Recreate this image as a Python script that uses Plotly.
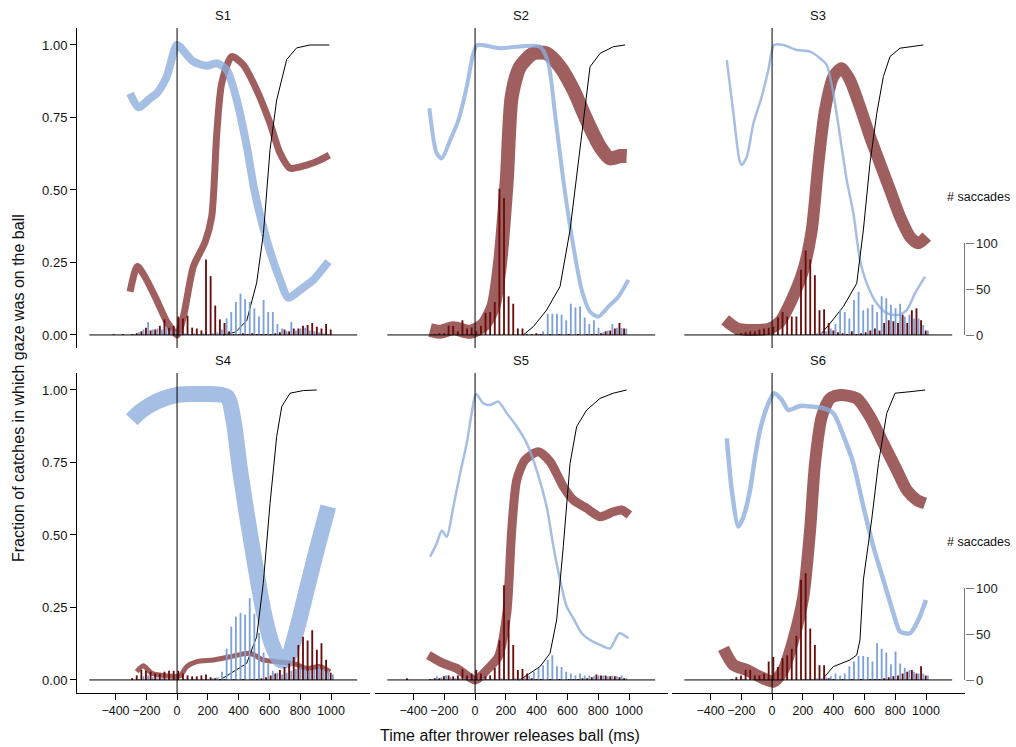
import plotly.graph_objects as go

W, H = 1016, 747

PANELS = ["S1", "S2", "S3", "S4", "S5", "S6"]
BIN_CENTERS = [-435 + 30 * k for k in range(49)]
TIME_TICKS = [-400, -200, 0, 200, 400, 600, 800, 1000]
FRAC_TICKS = [0, 0.25, 0.5, 0.75, 1.0]
SACC_TICKS = [0, 50, 100]

# ---- gaze-on-ball fraction curves (ms, fraction) ----
S1_BLUE_T = [-305, -251, -175, -132, -67, 0, 63, 106, 193, 258, 323, 388, 453, 506, 582, 669, 723, 799, 885, 983]
S1_BLUE_V = [0.833, 0.785, 0.816, 0.833, 0.891, 1.0, 0.966, 0.943, 0.928, 0.937, 0.914, 0.81, 0.65, 0.489, 0.328, 0.19, 0.128, 0.155, 0.19, 0.253]
S1_RED_T = [-305, -258, -208, -132, -67, 0, 41, 106, 182, 225, 258, 290, 355, 431, 517, 604, 669, 734, 842, 928, 989]
S1_RED_V = [0.149, 0.236, 0.2, 0.12, 0.046, 0.0, 0.063, 0.236, 0.32, 0.408, 0.695, 0.868, 0.96, 0.931, 0.845, 0.73, 0.627, 0.575, 0.586, 0.603, 0.62]
S1_BLACK_T = [300, 380, 453, 517, 561, 604, 647, 712, 777, 864, 989]
S1_BLACK_V = [0.0, 0.01, 0.05, 0.18, 0.35, 0.64, 0.81, 0.95, 0.99, 1.0, 1.0]

S2_BLUE_T = [-297, -249, -216, -162, -108, -54, -11, 15, 162, 422, 476, 519, 573, 628, 693, 747, 801, 866, 931, 996]
S2_BLUE_V = [0.782, 0.626, 0.609, 0.672, 0.741, 0.856, 0.971, 1.0, 0.989, 0.994, 0.937, 0.764, 0.534, 0.339, 0.155, 0.08, 0.063, 0.098, 0.132, 0.19]
S2_RED_T = [-292, -227, -141, -32, 54, 119, 162, 206, 238, 292, 379, 465, 552, 639, 725, 812, 877, 942, 985]
S2_RED_V = [0.017, 0.011, 0.023, 0.011, 0.034, 0.098, 0.247, 0.534, 0.822, 0.925, 0.971, 0.971, 0.925, 0.845, 0.741, 0.649, 0.609, 0.617, 0.617]
S2_BLACK_T = [314, 379, 465, 552, 617, 682, 725, 747, 812, 898, 974]
S2_BLACK_V = [0.0, 0.029, 0.086, 0.167, 0.362, 0.649, 0.822, 0.925, 0.971, 0.994, 1.0]

S3_BLUE_T = [-294, -251, -212, -197, -164, -121, -67, -24, 13, 73, 160, 247, 312, 355, 398, 442, 485, 528, 571, 615, 680, 745, 820, 875, 929, 994]
S3_BLUE_V = [0.948, 0.764, 0.603, 0.586, 0.615, 0.73, 0.822, 0.914, 1.0, 1.0, 0.983, 0.977, 0.954, 0.931, 0.833, 0.684, 0.534, 0.42, 0.259, 0.178, 0.109, 0.075, 0.069, 0.086, 0.144, 0.201]
S3_RED_T = [-305, -229, -121, -13, 52, 117, 203, 258, 301, 344, 398, 452, 506, 571, 636, 701, 766, 831, 896, 950, 1005]
S3_RED_V = [0.052, 0.023, 0.017, 0.023, 0.046, 0.109, 0.224, 0.362, 0.592, 0.776, 0.891, 0.92, 0.879, 0.787, 0.684, 0.592, 0.5, 0.408, 0.339, 0.316, 0.339]
S3_BLACK_T = [312, 377, 463, 550, 593, 636, 680, 723, 766, 831, 982]
S3_BLACK_V = [0.0, 0.04, 0.098, 0.178, 0.362, 0.592, 0.764, 0.891, 0.96, 0.989, 1.0]

S4_BLUE_T = [-294, -240, -132, 2, 149, 323, 366, 409, 452, 506, 560, 615, 669, 712, 777, 842, 907, 982]
S4_BLUE_V = [0.897, 0.925, 0.96, 0.983, 0.986, 0.977, 0.897, 0.724, 0.575, 0.402, 0.241, 0.126, 0.069, 0.069, 0.172, 0.31, 0.448, 0.598]
S4_RED_T = [-262, -219, -164, -67, 19, 63, 128, 236, 344, 474, 560, 647, 755, 842, 929, 994]
S4_RED_V = [0.029, 0.049, 0.023, 0.014, 0.014, 0.046, 0.063, 0.069, 0.08, 0.092, 0.069, 0.063, 0.057, 0.04, 0.046, 0.029]
S4_BLACK_T = [279, 366, 452, 517, 560, 604, 647, 680, 734, 820, 907]
S4_BLACK_V = [0.0, 0.029, 0.057, 0.149, 0.333, 0.609, 0.839, 0.943, 0.989, 0.998, 1.0]

S5_BLUE_T = [-292, -249, -216, -184, -141, -97, -54, -22, 6, 54, 97, 151, 206, 271, 336, 400, 465, 509, 552, 595, 638, 693, 747, 812, 877, 937, 996]
S5_BLUE_V = [0.425, 0.471, 0.515, 0.494, 0.598, 0.713, 0.816, 0.92, 0.986, 0.954, 0.948, 0.96, 0.92, 0.874, 0.816, 0.724, 0.598, 0.46, 0.345, 0.253, 0.213, 0.161, 0.138, 0.121, 0.109, 0.161, 0.144]
S5_RED_T = [-303, -206, -119, 0, 76, 151, 206, 238, 271, 325, 411, 487, 573, 638, 725, 812, 898, 952, 1002]
S5_RED_V = [0.086, 0.057, 0.04, 0.0, 0.034, 0.08, 0.23, 0.517, 0.69, 0.759, 0.787, 0.753, 0.667, 0.621, 0.592, 0.563, 0.58, 0.586, 0.569]
S5_BLACK_T = [290, 336, 422, 487, 530, 573, 617, 660, 725, 812, 898, 985]
S5_BLACK_V = [0.0, 0.017, 0.046, 0.092, 0.207, 0.46, 0.747, 0.874, 0.931, 0.971, 0.989, 1.0]

S6_BLUE_T = [-294, -262, -219, -186, -143, -110, -78, -24, 13, 63, 106, 182, 247, 333, 398, 474, 528, 593, 658, 723, 788, 831, 896, 950, 1000]
S6_BLUE_V = [0.833, 0.655, 0.529, 0.563, 0.655, 0.77, 0.862, 0.954, 0.989, 0.966, 0.931, 0.945, 0.943, 0.937, 0.92, 0.828, 0.747, 0.598, 0.46, 0.345, 0.23, 0.167, 0.161, 0.207, 0.276]
S6_RED_T = [-316, -251, -164, -78, 9, 73, 138, 203, 247, 279, 323, 377, 442, 550, 636, 723, 810, 875, 940, 994]
S6_RED_V = [0.109, 0.052, 0.034, 0.011, -0.006, 0.034, 0.138, 0.287, 0.517, 0.747, 0.908, 0.971, 0.983, 0.971, 0.908, 0.816, 0.724, 0.655, 0.621, 0.609]
S6_BLACK_T = [333, 398, 506, 550, 571, 593, 647, 691, 745, 799, 896, 994]
S6_BLACK_V = [0.006, 0.046, 0.069, 0.086, 0.138, 0.345, 0.552, 0.747, 0.92, 0.989, 0.994, 1.0]

# ---- saccade counts per 30 ms bin (BIN_CENTERS) ----
S1_RED_H = [0, 1, 0, 1, 0, 1, 2, 4, 8, 5, 6, 10, 17, 8, 10, 20, 18, 21, 8, 7, 5, 82, 64, 32, 17, 13, 4, 1, 1, 2, 1, 2, 1, 1, 1, 1, 2, 3, 6, 4, 7, 7, 10, 11, 13, 9, 7, 12, 6]
S1_BLUE_H = [0, 0, 0, 0, 0, 1, 3, 6, 14, 6, 7, 6, 8, 5, 4, 2, 2, 1, 2, 1, 2, 1, 2, 3, 6, 18, 25, 36, 45, 39, 36, 29, 20, 38, 25, 25, 12, 7, 4, 14, 5, 7, 8, 5, 4, 3, 2, 1, 0]
S2_RED_H = [0, 0, 0, 0, 0, 0, 1, 2, 2, 10, 10, 4, 16, 7, 8, 4, 10, 24, 25, 36, 159, 149, 42, 34, 7, 7, 1, 1, 2, 1, 0, 1, 0, 1, 0, 1, 0, 1, 0, 1, 1, 1, 2, 4, 5, 7, 13, 7, 0]
S2_BLUE_H = [0, 0, 0, 0, 0, 0, 0, 1, 0, 1, 0, 0, 0, 0, 0, 0, 0, 0, 0, 0, 0, 0, 0, 0, 0, 0, 0, 0, 1, 4, 23, 23, 23, 22, 16, 34, 30, 31, 19, 12, 16, 8, 3, 5, 12, 8, 8, 7, 0]
S3_RED_H = [0, 0, 0, 0, 0, 0, 0, 1, 2, 3, 4, 4, 6, 7, 8, 9, 19, 25, 20, 20, 20, 71, 92, 82, 65, 27, 28, 13, 5, 3, 2, 1, 4, 1, 2, 3, 5, 7, 5, 13, 16, 15, 13, 22, 13, 27, 29, 16, 5]
S3_BLUE_H = [0, 0, 0, 0, 0, 0, 0, 0, 0, 0, 0, 0, 0, 0, 0, 0, 0, 0, 0, 0, 0, 0, 1, 1, 2, 3, 4, 7, 12, 27, 25, 18, 38, 47, 27, 29, 33, 25, 42, 40, 33, 29, 34, 20, 22, 18, 18, 11, 5]
S4_RED_H = [0, 0, 0, 0, 0, 2, 5, 11, 10, 9, 7, 7, 9, 10, 10, 10, 7, 5, 4, 4, 5, 6, 3, 2, 1, 1, 0, 1, 0, 1, 0, 1, 1, 2, 3, 5, 7, 11, 14, 18, 25, 38, 47, 43, 54, 33, 40, 22, 8]
S4_BLUE_H = [0, 0, 0, 0, 0, 0, 1, 4, 5, 3, 2, 2, 1, 1, 1, 0, 1, 0, 1, 0, 1, 1, 2, 3, 9, 34, 58, 69, 73, 71, 89, 72, 51, 30, 18, 10, 8, 6, 8, 10, 12, 14, 12, 10, 12, 15, 12, 10, 6]
S5_RED_H = [2, 0, 0, 0, 0, 1, 2, 2, 4, 5, 4, 5, 12, 5, 7, 11, 7, 4, 5, 13, 43, 103, 65, 38, 11, 12, 7, 2, 1, 1, 0, 1, 0, 1, 0, 1, 1, 1, 2, 2, 3, 6, 5, 5, 4, 4, 3, 2, 0]
S5_BLUE_H = [0, 0, 0, 0, 0, 1, 4, 3, 5, 3, 2, 2, 1, 2, 1, 1, 2, 1, 1, 1, 2, 1, 1, 2, 2, 3, 5, 9, 13, 16, 22, 27, 15, 14, 9, 7, 5, 7, 5, 5, 4, 5, 5, 4, 5, 4, 5, 2, 0]
S6_RED_H = [0, 0, 0, 0, 0, 0, 1, 3, 5, 11, 11, 5, 5, 7, 20, 25, 14, 24, 27, 34, 48, 109, 116, 56, 38, 16, 16, 2, 1, 0, 1, 0, 1, 0, 1, 0, 1, 1, 1, 2, 3, 4, 5, 7, 9, 11, 7, 15, 5]
S6_BLUE_H = [0, 0, 0, 0, 0, 0, 0, 0, 1, 0, 0, 0, 0, 0, 0, 0, 0, 0, 0, 0, 0, 1, 1, 1, 2, 2, 3, 4, 7, 5, 7, 15, 20, 26, 26, 25, 20, 40, 34, 30, 17, 31, 18, 13, 11, 9, 7, 7, 5]

BLUE_T = [S1_BLUE_T, S2_BLUE_T, S3_BLUE_T, S4_BLUE_T, S5_BLUE_T, S6_BLUE_T]
BLUE_V = [S1_BLUE_V, S2_BLUE_V, S3_BLUE_V, S4_BLUE_V, S5_BLUE_V, S6_BLUE_V]
RED_T = [S1_RED_T, S2_RED_T, S3_RED_T, S4_RED_T, S5_RED_T, S6_RED_T]
RED_V = [S1_RED_V, S2_RED_V, S3_RED_V, S4_RED_V, S5_RED_V, S6_RED_V]
BLACK_T = [S1_BLACK_T, S2_BLACK_T, S3_BLACK_T, S4_BLACK_T, S5_BLACK_T, S6_BLACK_T]
BLACK_V = [S1_BLACK_V, S2_BLACK_V, S3_BLACK_V, S4_BLACK_V, S5_BLACK_V, S6_BLACK_V]
RED_H = [S1_RED_H, S2_RED_H, S3_RED_H, S4_RED_H, S5_RED_H, S6_RED_H]
BLUE_H = [S1_BLUE_H, S2_BLUE_H, S3_BLUE_H, S4_BLUE_H, S5_BLUE_H, S6_BLUE_H]

# ---- styling ----
BLUE_W = [8, 4, 2.5, 16, 2.5, 4.5]
RED_W = [7, 14, 12, 5, 9, 12]
BLUE_LINE = "rgba(140,172,220,0.78)"
RED_LINE = "rgba(150,78,78,0.9)"
BLUE_BAR = "#7da2da"
RED_BAR = "#6a0c0c"
FONT = "Liberation Sans, Arial, Helvetica, sans-serif"

COL_PX = [(77, 369.5), (375, 667.5), (672, 964.5)]
ROW_PX = [(28, 348), (373, 693)]
X_RANGE = [-650, 1250]
Y_RANGE = [-0.045, 1.0586]
N_RANGE = [-14.13, 333.7]
BASE_SPAN = (-570, 1170)


def px_x(p):
    return p / W


def px_y(p):
    return 1 - p / H


fig = go.Figure()
layout = dict(
    width=W, height=H, autosize=False,
    margin=dict(l=0, r=0, t=0, b=0),
    paper_bgcolor="white", plot_bgcolor="rgba(0,0,0,0)",
    showlegend=False, barmode="overlay",
    font=dict(family=FONT, size=13, color="#111"),
)
shapes = []
annotations = []

for i, name in enumerate(PANELS):
    r, c = divmod(i, 3)
    xs = "" if i == 0 else str(i + 1)
    xid, yid, hid = "x" + xs, "y" + xs, "y" + str(i + 7)
    x0, x1 = COL_PX[c]
    yt, yb = ROW_PX[r]

    xa = dict(domain=[px_x(x0), px_x(x1)], range=X_RANGE, anchor=yid,
              showgrid=False, zeroline=False, fixedrange=True)
    if r == 1:
        xa.update(showline=True, linecolor="black", linewidth=1, ticks="outside",
                  ticklen=6, tickcolor="black", tickvals=TIME_TICKS, tickangle=0,
                  ticktext=[("\u2212" + str(-v)) if v < 0 else str(v) for v in TIME_TICKS],
                  tickfont=dict(size=12.5, color="#111"))
    else:
        xa.update(visible=False)
    layout["xaxis" + xs] = xa

    ya = dict(domain=[px_y(yb), px_y(yt)], range=Y_RANGE, anchor=xid,
              showgrid=False, zeroline=False, fixedrange=True)
    if c == 0:
        ya.update(showline=True, linecolor="black", linewidth=1, ticks="outside",
                  ticklen=6, tickcolor="black", tickvals=FRAC_TICKS,
                  ticktext=["%.2f" % v for v in FRAC_TICKS],
                  tickfont=dict(size=13, color="#111"))
    else:
        ya.update(visible=False)
    layout["yaxis" + xs] = ya

    ha = dict(overlaying=yid, anchor=xid, side="right", range=N_RANGE,
              showgrid=False, zeroline=False, fixedrange=True)
    if c == 2:
        ha.update(showline=False, ticks="outside", ticklen=8, tickcolor="#777",
                  tickvals=SACC_TICKS, tickfont=dict(size=13, color="#222"))
        shapes.append(dict(type="line", xref=xid + " domain", yref=hid,
                           x0=1, x1=1, y0=0, y1=100,
                           line=dict(color="#777", width=1), layer="above"))
        annotations.append(dict(text="# saccades", xref="paper", yref="paper",
                                x=px_x(978), y=px_y(yt + 169), showarrow=False,
                                xanchor="center", yanchor="middle",
                                font=dict(size=12.5, color="#111")))
    else:
        ha.update(visible=False)
    layout["yaxis" + str(i + 7)] = ha

    # curves (base axes)
    fig.add_trace(go.Scatter(x=RED_T[i], y=RED_V[i], mode="lines", xaxis=xid, yaxis=yid,
                             line=dict(color=RED_LINE, width=RED_W[i], shape="spline", smoothing=0.7),
                             hoverinfo="skip"))
    fig.add_trace(go.Scatter(x=BLUE_T[i], y=BLUE_V[i], mode="lines", xaxis=xid, yaxis=yid,
                             line=dict(color=BLUE_LINE, width=BLUE_W[i], shape="spline", smoothing=0.7),
                             hoverinfo="skip"))
    fig.add_trace(go.Scatter(x=BLACK_T[i], y=BLACK_V[i], mode="lines", xaxis=xid, yaxis=yid,
                             line=dict(color="black", width=1), hoverinfo="skip"))

    # saccade histograms (overlay axes)
    fig.add_trace(go.Bar(x=[b + 7 for b in BIN_CENTERS], y=BLUE_H[i], width=12,
                         marker=dict(color=BLUE_BAR, line=dict(width=0)),
                         xaxis=xid, yaxis=hid, hoverinfo="skip"))
    fig.add_trace(go.Bar(x=[b - 7 for b in BIN_CENTERS], y=RED_H[i], width=12,
                         marker=dict(color=RED_BAR, line=dict(width=0)),
                         xaxis=xid, yaxis=hid, hoverinfo="skip"))

    # reference lines
    shapes.append(dict(type="line", xref=xid, yref=yid, x0=BASE_SPAN[0], x1=BASE_SPAN[1],
                       y0=0, y1=0, line=dict(color="black", width=1), layer="above"))
    shapes.append(dict(type="line", xref=xid, yref=yid + " domain", x0=0, x1=0,
                       y0=0, y1=1, line=dict(color="black", width=1), layer="above"))

    annotations.append(dict(text=name, xref="paper", yref="paper",
                            x=px_x((x0 + x1) / 2), y=px_y(yt - 13), showarrow=False,
                            xanchor="center", yanchor="middle",
                            font=dict(size=13, color="#111")))

annotations.append(dict(text="Time after thrower releases ball (ms)", xref="paper", yref="paper",
                        x=px_x(510), y=px_y(735), showarrow=False, xanchor="center",
                        yanchor="middle", font=dict(size=16, color="#111")))
annotations.append(dict(text="Fraction of catches in which gaze was on the ball", xref="paper",
                        yref="paper", x=px_x(18), y=px_y(388), showarrow=False, textangle=-90,
                        xanchor="center", yanchor="middle", font=dict(size=16, color="#111")))

layout["shapes"] = shapes
layout["annotations"] = annotations
fig.update_layout(**layout)
fig.write_html("out.html", config={"displayModeBar": False, "staticPlot": True})

# remove the default page margin so the figure sits at the window's top-left corner
with open("out.html", "r", encoding="utf-8") as fh:
    page = fh.read()
page = page.replace("<head>", "<head><style>html,body{margin:0;padding:0;overflow:hidden;}</style>", 1)
with open("out.html", "w", encoding="utf-8") as fh:
    fh.write(page)
